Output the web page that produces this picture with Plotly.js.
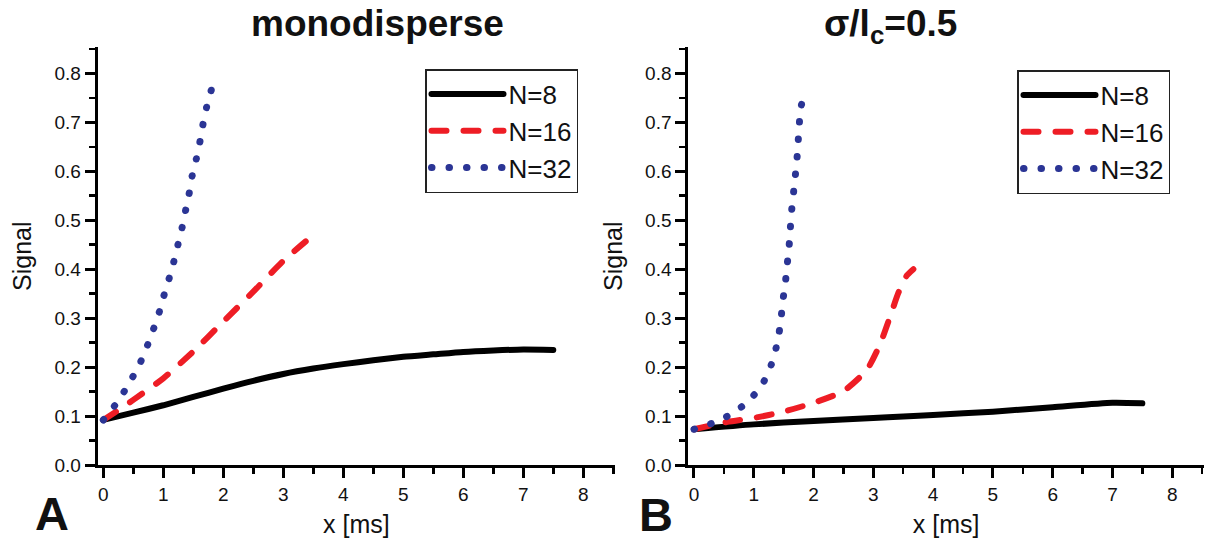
<!DOCTYPE html>
<html>
<head>
<meta charset="utf-8">
<script src="https://cdn.plot.ly/plotly-3.0.1.min.js"></script>
<style>
  html, body { margin: 0; padding: 0; background: #ffffff; }
  #chart { width: 1213px; height: 544px; }
  path.js-line { stroke-linecap: round; stroke-linejoin: round; }
</style>
</head>
<body>
<div id="chart"></div>
<script>
// ---------- Data ----------
// Panel A: monodisperse
const xA_N8  = [0, 0.5, 1, 1.5, 2, 2.5, 3, 3.5, 4, 4.5, 5, 5.5, 6, 6.5, 7, 7.5];
const yA_N8  = [0.092, 0.107, 0.122, 0.139, 0.156, 0.172, 0.186, 0.197, 0.206, 0.214, 0.221, 0.226, 0.231, 0.234, 0.236, 0.235];

const xA_N16 = [0, 0.25, 0.5, 1, 1.5, 2, 2.5, 3, 3.53];
const yA_N16 = [0.092, 0.112, 0.133, 0.177, 0.232, 0.293, 0.354, 0.417, 0.473];

const xA_N32 = [0, 0.25, 0.43, 0.59, 0.71, 0.82, 0.92, 1.0, 1.09, 1.17, 1.24, 1.31, 1.37, 1.43, 1.48, 1.55, 1.61, 1.66, 1.72, 1.8];
const yA_N32 = [0.092, 0.131, 0.167, 0.202, 0.236, 0.272, 0.307, 0.342, 0.378, 0.413, 0.448, 0.483, 0.519, 0.554, 0.59, 0.625, 0.66, 0.695, 0.73, 0.766];

// Panel B: sigma/l_c = 0.5
const xB_N8  = [0, 1, 2, 3, 3.5, 4, 5, 6, 7, 7.5];
const yB_N8  = [0.073, 0.083, 0.09, 0.096, 0.099, 0.102, 0.109, 0.118, 0.127, 0.126];

const xB_N16 = [0, 0.56, 1, 1.5, 2, 2.5, 2.89, 3.11, 3.28, 3.42, 3.56, 3.67];
const yB_N16 = [0.073, 0.088, 0.096, 0.109, 0.127, 0.151, 0.194, 0.246, 0.303, 0.352, 0.387, 0.4];

const xB_N32 = [0, 0.32, 0.61, 0.89, 1.13, 1.27, 1.36, 1.42, 1.46, 1.49, 1.53, 1.56, 1.59, 1.61, 1.63, 1.66, 1.69, 1.72, 1.74, 1.76, 1.78, 1.86];
const yB_N32 = [0.073, 0.086, 0.103, 0.128, 0.162, 0.197, 0.232, 0.267, 0.304, 0.338, 0.374, 0.41, 0.445, 0.48, 0.515, 0.55, 0.585, 0.621, 0.656, 0.691, 0.726, 0.764];

const seriesNames = ["N=8", "N=16", "N=32"];
const panelTitles = ["monodisperse", "σ/l<sub>c</sub>=0.5"];
const panelLetters = ["A", "B"];
const xTitle = "x [ms]";
const yTitle = "Signal";

// ---------- Styles ----------
const FONT = "Liberation Sans, Arial, Helvetica, sans-serif";
const styles = [
  { color: "#000000", width: 6, dash: "solid" },
  { color: "#ee1d25", width: 6, dash: "15px,17px" },
  { color: "#2b3595", width: 7, dash: "0.5px,17px" }
];

function mk(x, y, i, xa, ya, leg) {
  return {
    type: "scatter", mode: "lines", x: x, y: y,
    name: seriesNames[i], xaxis: xa, yaxis: ya, legend: leg,
    line: { color: styles[i].color, width: styles[i].width, dash: styles[i].dash, shape: "spline", smoothing: 0.6 },
    hoverinfo: "skip"
  };
}

const data = [
  mk(xA_N8,  yA_N8,  0, "x",  "y",  "legend"),
  mk(xA_N16, yA_N16, 1, "x",  "y",  "legend"),
  mk(xA_N32, yA_N32, 2, "x",  "y",  "legend"),
  mk(xB_N8,  yB_N8,  0, "x2", "y2", "legend2"),
  mk(xB_N16, yB_N16, 1, "x2", "y2", "legend2"),
  mk(xB_N32, yB_N32, 2, "x2", "y2", "legend2")
];

function xAxis(domain, anchor) {
  return {
    domain: domain, anchor: anchor, range: [-0.095, 8.53],
    showline: true, linewidth: 3, linecolor: "#000",
    ticks: "outside", ticklen: 10, tickwidth: 3, tickcolor: "#000",
    tick0: 0, dtick: 1, showgrid: false, zeroline: false,
    tickfont: { family: FONT, size: 19, color: "#111" },
    minor: { ticks: "outside", ticklen: 6, tickwidth: 2.5, tickcolor: "#000", tick0: 0, dtick: 0.5, showgrid: false },
    title: { text: xTitle, font: { family: FONT, size: 25, color: "#111" }, standoff: 12 },
    fixedrange: true
  };
}
function yAxis(domain, anchor) {
  return {
    domain: domain, anchor: anchor, range: [0, 0.853],
    showline: true, linewidth: 3, linecolor: "#000",
    ticks: "outside", ticklen: 10, tickwidth: 3, tickcolor: "#000",
    tick0: 0, dtick: 0.1, tickformat: ".1f", showgrid: false, zeroline: false,
    tickfont: { family: FONT, size: 19, color: "#111" },
    minor: { ticks: "outside", ticklen: 6, tickwidth: 2.5, tickcolor: "#000", tick0: 0, dtick: 0.05, showgrid: false },
    title: { text: yTitle, font: { family: FONT, size: 25, color: "#111" }, standoff: 16 },
    fixedrange: true
  };
}

const legendStyle = (x, y) => ({
  x: x, y: y, xanchor: "left", yanchor: "top",
  bgcolor: "#ffffff", bordercolor: "#222", borderwidth: 1.5,
  font: { family: FONT, size: 26, color: "#111" },
  itemwidth: 72, tracegroupgap: 0, traceorder: "normal"
});

const W = 1213, H = 544;
const yDom = [1 - 465 / H, 1 - 47.4 / H];

const layout = {
  width: W, height: H,
  margin: { l: 0, r: 0, t: 0, b: 0 },
  paper_bgcolor: "#ffffff", plot_bgcolor: "#ffffff",
  showlegend: true,
  xaxis: xAxis([97.6 / W, 615.1 / W], "y"),
  yaxis: yAxis(yDom, "x"),
  xaxis2: xAxis([688.3 / W, 1203.9 / W], "y2"),
  yaxis2: yAxis(yDom, "x2"),
  legend: legendStyle(425 / W, 1 - 69 / H),
  legend2: legendStyle(1017 / W, 1 - 70 / H),
  annotations: [
    { text: "<b>" + panelTitles[0] + "</b>", xref: "paper", yref: "paper", x: 377 / W, y: 1 - 24 / H,
      xanchor: "center", yanchor: "middle", showarrow: false, font: { family: FONT, size: 37, color: "#111" } },
    { text: "<b>" + panelTitles[1] + "</b>", xref: "paper", yref: "paper", x: 890 / W, y: 1 - 26 / H,
      xanchor: "center", yanchor: "middle", showarrow: false, font: { family: FONT, size: 37, color: "#111" } },
    { text: "<b>" + panelLetters[0] + "</b>", xref: "paper", yref: "paper", x: 51.5 / W, y: 1 - 513 / H,
      xanchor: "center", yanchor: "middle", showarrow: false, font: { family: FONT, size: 47, color: "#111" } },
    { text: "<b>" + panelLetters[1] + "</b>", xref: "paper", yref: "paper", x: 656 / W, y: 1 - 514 / H,
      xanchor: "center", yanchor: "middle", showarrow: false, font: { family: FONT, size: 47, color: "#111" } }
  ],
  hovermode: false
};

Plotly.newPlot("chart", data, layout, { staticPlot: true, displayModeBar: false });
</script>
</body>
</html>
